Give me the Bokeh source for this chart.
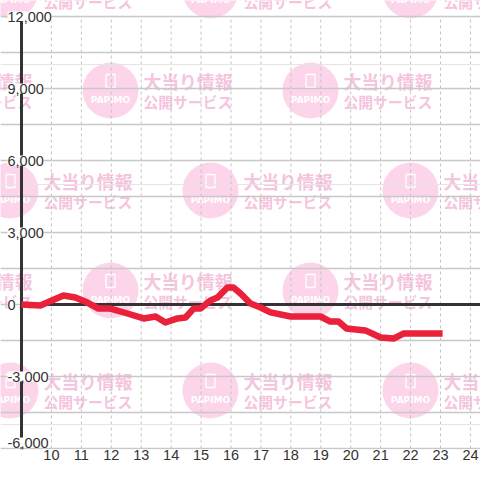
from bokeh.plotting import figure
from bokeh.models import Grid, FixedTicker, ColumnDataSource, Range1d
from bokeh.core.properties import value
from bokeh.embed import file_html
from bokeh.resources import INLINE

# ---------------- data ----------------
hour_ticks = [10, 11, 12, 13, 14, 15, 16, 17, 18, 19, 20, 21, 22, 23, 24]
y_ticks = [-6000, -3000, 0, 3000, 6000, 9000, 12000]
y_tick_labels = ["-6,000", "-3,000", "0", "3,000", "6,000", "9,000", "12,000"]
y_grid_ticks = [-6000, -4500, -3000, -1500, 0, 1500, 3000, 4500, 6000,
                7500, 9000, 10500, 12000]

time_h = [9.0, 9.63, 10.4, 10.8, 11.2, 11.57, 11.97, 12.54, 13.08, 13.48,
          13.81, 14.21, 14.48, 14.75, 14.98, 15.31, 15.55, 15.88, 16.08,
          16.32, 16.65, 16.99, 17.32, 17.99, 18.99, 19.32, 19.59, 19.86,
          20.49, 21.0, 21.43, 21.76, 23.07]
diff = [0, -40, 375, 290, 80, -170, -170, -375, -580, -500,
        -750, -580, -540, -170, -170, 170, 290, 710, 710,
        460, 40, -125, -330, -500, -500, -710, -710, -1000,
        -1080, -1375, -1420, -1210, -1210]

# ---------------- layout constants ----------------
AXIS_X = 9.0            # hour at which the vertical axis line sits
PX_PER_HOUR = 29.93
PX_PER_UNIT = 0.024
AXIS_PX = 21            # axis line position inside the figure (px)
TOP_PX = 16             # 12,000 line distance from figure top (px)
FRAME_H = 449
W, H = 480, 480

X0 = AXIS_X - AXIS_PX / PX_PER_HOUR
X1 = X0 + W / PX_PER_HOUR
Y1 = y_ticks[-1] + TOP_PX / PX_PER_UNIT
Y0 = Y1 - FRAME_H / PX_PER_UNIT


def sx(px):   # figure px -> hour
    return X0 + px / PX_PER_HOUR


def sy(py):   # figure px -> value
    return Y1 - py / PX_PER_UNIT


p = figure(width=W, height=H, output_backend="svg", toolbar_location=None,
           x_range=Range1d(X0, X1), y_range=Range1d(Y0, Y1),
           y_axis_location=None, min_border=0, min_border_bottom=H - FRAME_H,
           outline_line_color=None, background_fill_color="white",
           border_fill_color="white")

# ---------------- watermark ----------------
cx, cy = [], []
for row in [-10, 90, 190, 290, 390, 490]:
    cols = [-90, 110, 310, 510] if (row - 90) % 200 == 0 else [10, 210, 410]
    for c in cols:
        cx.append(c)
        cy.append(row)

wm = ColumnDataSource(dict(
    x=[sx(c) for c in cx], y=[sy(r) for r in cy],
    icon_y=[sy(r - 9.5) for r in cy], logo_y=[sy(r + 9) for r in cy],
    t1x=[sx(c + 33) for c in cx], t1y=[sy(r - 10) for r in cy],
    t2y=[sy(r + 11) for r in cy],
    t1=["大当り情報"] * len(cx), t2=["公開サービス"] * len(cx),
    logo=["PAPIMO"] * len(cx)))

p.scatter(x="x", y="y", source=wm, marker="circle", size=56,
          fill_color="#fcd5ea", line_color=None, level="image")
p.rect(x="x", y="icon_y", source=wm, width=9, height=13, width_units="screen",
       height_units="screen", fill_color=None, line_color="white",
       line_width=1.3, level="image")
p.text(x="x", y="logo_y", text="logo", source=wm, text_align="center",
       text_baseline="middle", text_font=value("DejaVu Sans"),
       text_font_style="bold", text_font_size="9px", text_color="white",
       level="image")
p.text(x="t1x", y="t1y", text="t1", source=wm, text_align="left",
       text_baseline="middle", text_font=value("Noto Sans CJK JP"),
       text_font_style="bold", text_font_size="17.8px", text_color="#f5c4de",
       level="image")
p.text(x="t1x", y="t2y", text="t2", source=wm, text_align="left",
       text_baseline="middle", text_font=value("Noto Sans CJK JP"),
       text_font_style="bold", text_font_size="14.8px", text_color="#f5c4de",
       level="image")

# ---------------- grids ----------------
p.xgrid.grid_line_color = None
ygrid = Grid(dimension=1, ticker=FixedTicker(ticks=y_grid_ticks),
             grid_line_color="#c8c8c8", grid_line_width=1.5)
p.add_layout(ygrid)
p.segment(x0=hour_ticks, y0=[y_ticks[0]] * len(hour_ticks),
          x1=hour_ticks, y1=[y_ticks[-1]] * len(hour_ticks),
          line_color="#c4c4c4", line_width=1, line_dash="3 3",
          level="underlay")

# ---------------- x axis ----------------
xa = p.xaxis[0]
xa.ticker = FixedTicker(ticks=hour_ticks)
xa.axis_line_color = None
xa.major_tick_line_color = None
xa.minor_tick_line_color = None
xa.major_tick_out = 0
xa.major_label_standoff = 0
xa.major_label_text_font = "Liberation Sans"
xa.major_label_text_font_size = "14.5px"
xa.major_label_text_color = "#333333"

# ---------------- axis lines ----------------
p.segment(x0=[AXIS_X], y0=[y_ticks[0]], x1=[AXIS_X], y1=[y_ticks[-1]],
          line_color="#333333", line_width=3)
p.ray(x=[AXIS_X], y=[0], length=0, angle=0, line_color="#333333",
      line_width=3)

# y tick labels (with white background like the original)
ylab = ColumnDataSource(dict(
    x=[AXIS_X] * len(y_ticks), y=y_ticks, text=y_tick_labels,
    yoff=[-6 if v == y_ticks[0] else 0 for v in y_ticks]))
p.text(x="x", y="y", text="text", source=ylab, x_offset=-14, y_offset="yoff",
       text_align="left", text_baseline="middle",
       text_font=value("Liberation Sans"), text_font_size="14.5px",
       text_color="#333333", background_fill_color="white",
       border_line_color=None)

# ---------------- data line ----------------
p.line(time_h, diff, line_color="#e9213a", line_width=6.5,
       line_join="round", line_cap="butt")

open("out.html", "w").write(file_html(p, INLINE))
